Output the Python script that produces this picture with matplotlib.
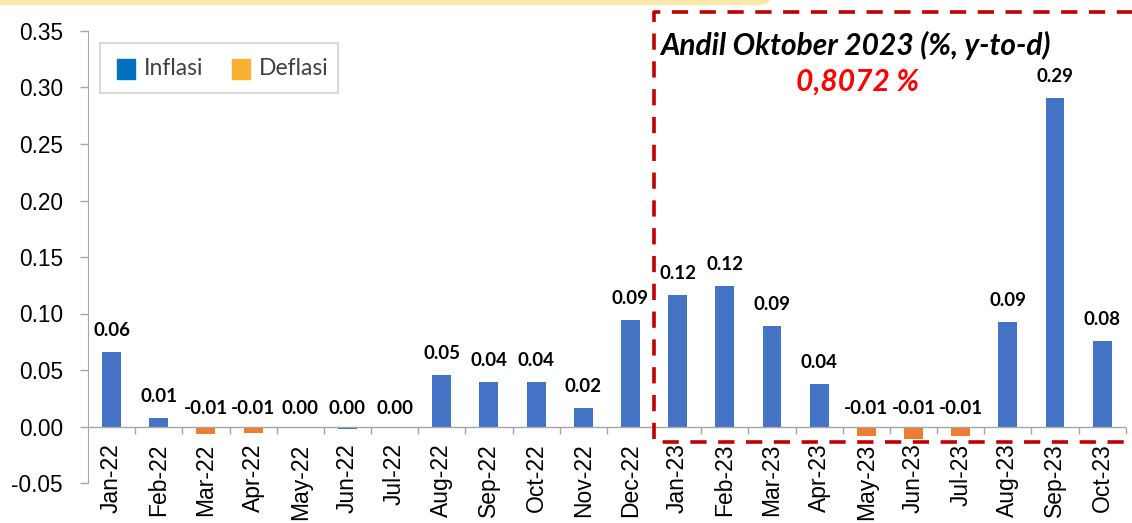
import numpy as np
import matplotlib
matplotlib.use("Agg")
import matplotlib.pyplot as plt
from matplotlib.patches import FancyBboxPatch, Rectangle

plt.rcParams['font.family'] = ['Lato', 'DejaVu Sans']
arial = ['Liberation Sans', 'DejaVu Sans']

# data
bulan = ['Jan-22', 'Feb-22', 'Mar-22', 'Apr-22', 'May-22', 'Jun-22', 'Jul-22',
         'Aug-22', 'Sep-22', 'Oct-22', 'Nov-22', 'Dec-22',
         'Jan-23', 'Feb-23', 'Mar-23', 'Apr-23', 'May-23', 'Jun-23', 'Jul-23',
         'Aug-23', 'Sep-23', 'Oct-23']
andil = [0.0656, 0.0077, -0.0062, -0.0055, -0.0012, -0.0025, -0.0012,
         0.0455, 0.0390, 0.0390, 0.0168, 0.0945,
         0.1166, 0.1246, 0.0890, 0.0380, -0.0088, -0.0115, -0.0082,
         0.0921, 0.2906, 0.0760]
label_andil = ['0.06', '0.01', '-0.01', '-0.01', '0.00', '0.00', '0.00',
               '0.05', '0.04', '0.04', '0.02', '0.09',
               '0.12', '0.12', '0.09', '0.04', '-0.01', '-0.01', '-0.01',
               '0.09', '0.29', '0.08']
judul_kotak = 'Andil Oktober 2023 (%, y-to-d)'
total_ytd = '0,8072 %'

biru = '#4472C4'
oranye = '#ED7D31'
warna = [biru, biru, oranye, oranye, oranye, '#1F6FC5', '#1F6FC5'] + \
        [oranye if v < 0 else biru for v in andil[7:]]

fig = plt.figure(figsize=(11.32, 5.23), dpi=100)
ax = fig.add_axes([88 / 1132, 1 - 483 / 523, 1037.7 / 1132, 452 / 523])

x = np.arange(len(bulan))
ax.bar(x, andil, width=0.4, color=warna, zorder=3)

ax.set_xlim(-0.5, len(bulan) - 0.5)
ax.set_ylim(-0.05, 0.35)
yt = np.arange(-0.05, 0.351, 0.05)
ax.set_yticks(yt)
ax.set_yticklabels([f'{t:.2f}' for t in yt], fontsize=16.3, family=arial)
ax.tick_params(axis='y', length=6, width=1, color='#A6A6A6', pad=12)
ax.set_xticks([])
for s in ['top', 'right', 'bottom']:
    ax.spines[s].set_visible(False)
ax.spines['left'].set_color('#A6A6A6')

# sumbu x di nol
ax.axhline(0, color='#A6A6A6', lw=1, zorder=4)
ax.vlines(x[:-1] + 0.5, -0.007, 0, color='#A6A6A6', lw=1, clip_on=False)
ax.vlines(len(bulan) - 0.5, -0.007, 0, color='#A6A6A6', lw=1, clip_on=False)
for i, b in enumerate(bulan):
    ax.annotate(b, (i, 0), xytext=(0, -12.2), textcoords='offset points',
                rotation=90, ha='center', va='top', fontsize=16.5, family=arial)

# label nilai
for i, (v, t) in enumerate(zip(andil, label_andil)):
    if v > 0.005:
        ax.annotate(t, (i, v), xytext=(0, 11.5), textcoords='offset points',
                    ha='center', va='baseline', fontsize=13.5, fontweight='bold')
    else:
        ax.annotate(t, (i, 0), xytext=(0, 9), textcoords='offset points',
                    ha='center', va='baseline', fontsize=13.5, fontweight='bold')

# kotak putus-putus
ax.plot([23, 11.5, 11.5, 23], [0.3666, 0.3666, -0.0141, -0.0141], color='#C00000',
        lw=2.6, linestyle=(0, (4.5, 3.2)), clip_on=False, zorder=5)
fig.text(660 / 1132, 1 - 45 / 523, judul_kotak, fontsize=21.5, fontweight='bold',
         fontstyle='italic', ha='left', va='center')
fig.text(858 / 1132, 1 - 82 / 523, total_ytd, fontsize=21.5, fontweight='bold',
         fontstyle='italic', color='#FF0000', ha='center', va='center')

# legenda
fig.patches.append(Rectangle((100 / 1132, 1 - 93 / 523), 238 / 1132, 50 / 523,
                             transform=fig.transFigure, fill=False,
                             edgecolor='#D9D9D9', lw=1.5))
fig.patches.append(Rectangle((117 / 1132, 1 - 79 / 523), 18 / 1132, 20 / 523,
                             transform=fig.transFigure, color='#0070C0'))
fig.patches.append(Rectangle((232 / 1132, 1 - 79 / 523), 18 / 1132, 20 / 523,
                             transform=fig.transFigure, color='#F8B133'))
fig.text(144 / 1132, 1 - 69 / 523, 'Inflasi', fontsize=16.5, color='#404040', va='center')
fig.text(259 / 1132, 1 - 69 / 523, 'Deflasi', fontsize=16.5, color='#404040', va='center')

# pita kuning di atas
fig.patches.append(FancyBboxPatch((-20 / 1132, 1 - 5 / 523), 790 / 1132, 20 / 523,
                                  boxstyle='round,pad=0,rounding_size=0.012',
                                  transform=fig.transFigure, color='#FCE8A8', lw=0))

fig.savefig('out.png', dpi=100)
